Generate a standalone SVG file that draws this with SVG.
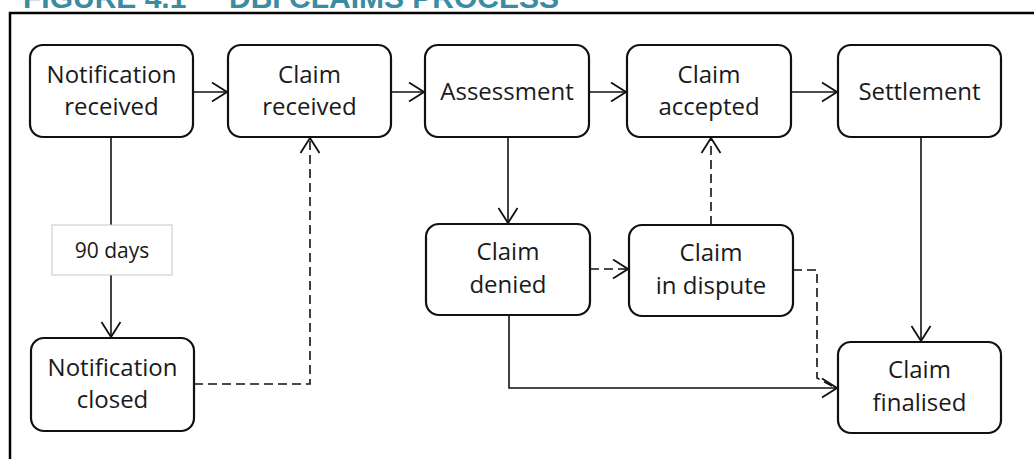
<svg xmlns="http://www.w3.org/2000/svg" width="1034" height="459" viewBox="0 0 1034 459">
<defs>
<marker id="arr" viewBox="0 0 17 22" refX="16" refY="11" markerWidth="17" markerHeight="22" markerUnits="userSpaceOnUse" orient="auto">
<path d="M1,1.5 L16,11 L1,20.5" fill="none" stroke="#111" stroke-width="1.8"/>
</marker>
<style>
.box{fill:#fff;stroke:#111;stroke-width:2.2}
.lbl{fill:#fff;stroke:#c8c8c8;stroke-width:1}
.t{font-family:"Open Sans","DejaVu Sans",sans-serif;font-size:24px;fill:#1a1a1a;text-anchor:middle}
.s{font-family:"Open Sans","DejaVu Sans",sans-serif;font-size:21px;fill:#1a1a1a;text-anchor:middle}
.c{fill:none;stroke:#111;stroke-width:1.6}
.d{stroke-dasharray:9 5}
.title{font-family:"Liberation Sans",Arial,sans-serif;font-weight:bold;font-size:30px;fill:#3a8ca3}
</style>
</defs>
<rect width="1034" height="459" fill="#fff"/>
<g id="title">
<text class="title" x="23" y="8">FIGURE 4.1</text>
<text class="title" x="229" y="8">DBI CLAIMS PROCESS</text>
</g>
<g id="frame">
<path d="M10,459 V13 H1034" fill="none" stroke="#000" stroke-width="2.5"/>
</g>
<g id="connectors">
<path class="c" d="M193,92 H227" marker-end="url(#arr)"/>
<path class="c" d="M391,92 H424" marker-end="url(#arr)"/>
<path class="c" d="M589,92 H626" marker-end="url(#arr)"/>
<path class="c" d="M791,92 H837" marker-end="url(#arr)"/>
<path class="c" d="M111,137 V225"/>
<path class="c" d="M111,275 V337" marker-end="url(#arr)"/>
<path class="c d" d="M194,384 H310 V138" marker-end="url(#arr)"/>
<path class="c" d="M508,137 V223" marker-end="url(#arr)"/>
<path class="c d" d="M590,269 H628" marker-end="url(#arr)"/>
<path class="c d" d="M711,225 V138" marker-end="url(#arr)"/>
<path class="c d" d="M793,270 H817 V378 L834,387"/>
<path class="c" d="M509,315 V388 H837" marker-end="url(#arr)"/>
<path class="c" d="M921,137 V341" marker-end="url(#arr)"/>
</g>
<g id="n1"><rect class="box" x="30" y="45" width="163" height="92" rx="13"/><text class="t" x="111.5" y="83">Notification</text><text class="t" x="111.5" y="115">received</text></g>
<g id="n2"><rect class="box" x="228" y="45" width="163" height="92" rx="13"/><text class="t" x="309.5" y="83">Claim</text><text class="t" x="309.5" y="115">received</text></g>
<g id="n3"><rect class="box" x="425" y="45" width="164" height="92" rx="13"/><text class="t" x="507" y="100">Assessment</text></g>
<g id="n4"><rect class="box" x="627" y="45" width="164" height="92" rx="13"/><text class="t" x="709" y="83">Claim</text><text class="t" x="709" y="115">accepted</text></g>
<g id="n5"><rect class="box" x="838" y="45" width="163" height="92" rx="13"/><text class="t" x="919.5" y="100">Settlement</text></g>
<g id="n6"><rect class="lbl" x="52" y="225" width="120" height="50"/><text class="s" x="112" y="258">90 days</text></g>
<g id="n7"><rect class="box" x="31" y="338" width="163" height="93" rx="13"/><text class="t" x="112.5" y="376">Notification</text><text class="t" x="112.5" y="408">closed</text></g>
<g id="n8"><rect class="box" x="426" y="224" width="164" height="91" rx="13"/><text class="t" x="508" y="260">Claim</text><text class="t" x="508" y="293">denied</text></g>
<g id="n9"><rect class="box" x="629" y="225" width="164" height="91" rx="13"/><text class="t" x="711" y="261">Claim</text><text class="t" x="711" y="294">in dispute</text></g>
<g id="n10"><rect class="box" x="838" y="342" width="163" height="91" rx="13"/><text class="t" x="919.5" y="378">Claim</text><text class="t" x="919.5" y="411">finalised</text></g>
</svg>
